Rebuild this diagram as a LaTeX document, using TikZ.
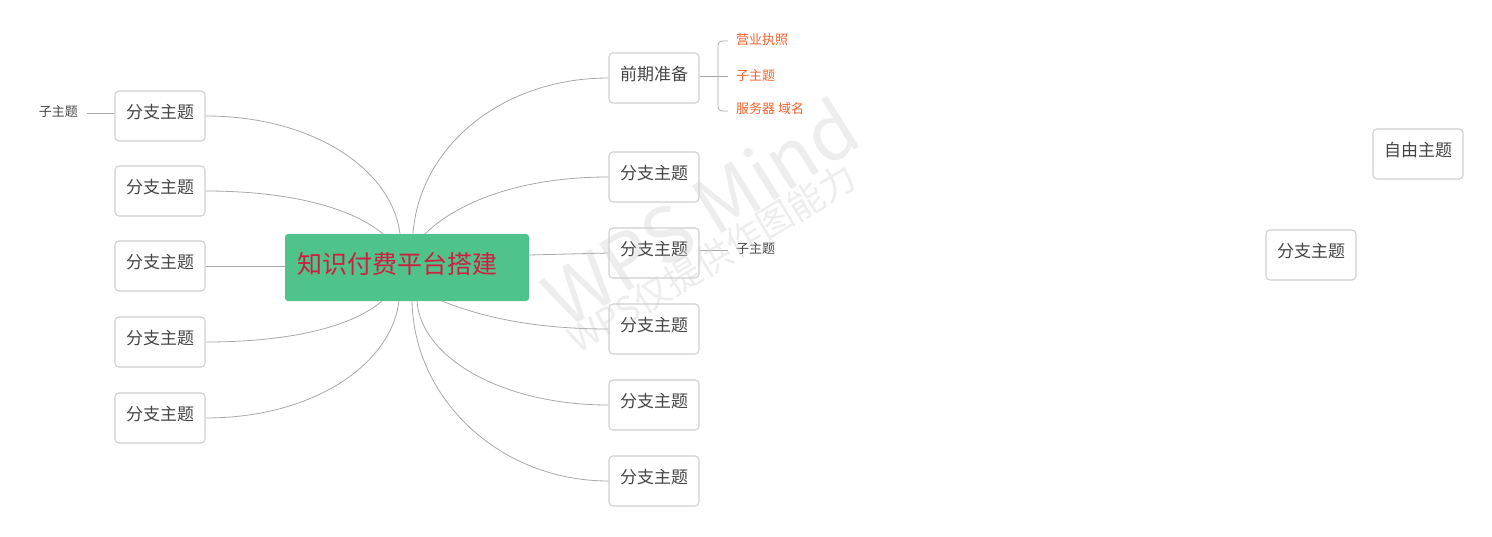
\documentclass[tikz,border=0pt]{standalone}
\usepackage{fontspec}
\newfontfamily\cjk{Noto Sans CJK SC}
\usetikzlibrary{calc}
\definecolor{rootgreen}{HTML}{50C38C}
\definecolor{rootred}{HTML}{CE1F40}
\definecolor{boxgray}{HTML}{CFCFCF}
\definecolor{txtgray}{HTML}{454545}
\definecolor{conngray}{HTML}{A8A8A8}
\definecolor{suborange}{HTML}{F2622D}
\definecolor{wmgray}{HTML}{D0D0D0}
\tikzset{
  branch/.style={draw=boxgray, line width=1.1pt, rounded corners=4pt, minimum width=90pt, minimum height=50pt,
    inner sep=0pt, text=txtgray, font=\cjk\fontsize{17}{20}\selectfont, text height=0.83em, text depth=0.26em},
  rootbox/.style={fill=rootgreen, rounded corners=3pt, minimum width=244pt, minimum height=67pt, inner sep=0pt},
  roottext/.style={inner sep=0pt, anchor=base west, text=rootred, font=\cjk\fontsize{25}{30}\selectfont},
  subtxt/.style={inner sep=0pt, text=txtgray, font=\cjk\fontsize{13}{15}\selectfont},
  suborg/.style={inner sep=0pt, text=suborange, font=\cjk\fontsize{13}{15}\selectfont, anchor=west},
  conn/.style={draw=conngray, line width=0.8pt},
  wm/.style={text=wmgray, text opacity=0.38, font=\cjk, inner sep=0pt}
}
\begin{document}
\begin{tikzpicture}[x=1pt,y=-1pt]
\useasboundingbox (0,0) rectangle (1492,536);

% root
\node[rootbox] (root) at (407,267.5) {};
\node[roottext] (roottxt) at (297,273.5) {知识付费平台搭建};

% left branches
\node[branch] (L1) at (160,116) {分支主题};
\node[branch] (L2) at (160,191) {分支主题};
\node[branch] (L3) at (160,266) {分支主题};
\node[branch] (L4) at (160,342) {分支主题};
\node[branch] (L5) at (160,418) {分支主题};

% right branches
\node[branch] (R1) at (654,78) {前期准备};
\node[branch] (R2) at (654,177) {分支主题};
\node[branch] (R3) at (654,253) {分支主题};
\node[branch] (R4) at (654,329) {分支主题};
\node[branch] (R5) at (654,405) {分支主题};
\node[branch] (R6) at (654,481) {分支主题};

% free topics
\node[branch] (F1) at (1418,154) {自由主题};
\node[branch] (F2) at (1311,255) {分支主题};

% sub topics
\node[suborg] (S1) at (736,40) {营业执照};
\node[suborg] (S2) at (736,76) {子主题};
\node[suborg] (S3) at (736,109) {服务器 域名};
\node[subtxt, anchor=east] (LS) at (78,112) {子主题};
\node[subtxt, anchor=west] (RS) at (736,249) {子主题};

% root anchor points
\coordinate (t1) at (383,234);
\coordinate (t2) at (400,234);
\coordinate (t3) at (413,234);
\coordinate (t4) at (425,234);
\coordinate (b1) at (382,301);
\coordinate (b2) at (399,301);
\coordinate (b3) at (412,301);
\coordinate (b4) at (417,301);
\coordinate (b5) at (442,301);
\coordinate (r3) at (529,255);

% connectors left
\draw[conn] (L1.east) .. controls +(107,0) and +(-8,-65) .. (t2);
\draw[conn] (L2.east) .. controls +(90,0) and +(-28,-24) .. (t1);
\draw[conn] (L3.east) -- (root.west |- L3.east);
\draw[conn] (L4.east) .. controls +(90,0) and +(-28,24) .. (b1);
\draw[conn] (L5.east) .. controls +(107,0) and +(-8,64) .. (b2);

% connectors right
\draw[conn] (R1.west) .. controls +(-108,0) and +(6,-86) .. (t3);
\draw[conn] (R2.west) .. controls +(-95,0) and +(28,-28) .. (t4);
\draw[conn] (r3) -- (R3.west);
\draw[conn] (R4.west) .. controls +(-85,0) and +(30,12) .. (b5);
\draw[conn] (R5.west) .. controls +(-106,0) and +(4,57) .. (b4);
\draw[conn] (R6.west) .. controls +(-108,0) and +(2,99) .. (b3);

% bracket of 前期准备
\coordinate (k1) at ($(S1.west)+(-8,1)$);
\coordinate (k3) at ($(S3.west)+(-8,2)$);
\coordinate (kx) at (718,76);
\draw[conn, rounded corners=4pt] (k1) -| (kx) |- (k3);
\draw[conn] (R1.east |- S2.west) -- ($(S2.west)+(-8,0)$);

% sub-topic lines
\draw[conn] ($(LS.east)+(9,1)$) -- (L1.west |- 0,113);
\draw[conn] (R3.east |- 0,250) -- ($(RS.west)+(-8,1)$);

% watermark
\node[wm, rotate=32, font=\cjk\fontsize{76}{84}\selectfont] (wm1) at (700,212) {WPS Mind};
\node[wm, rotate=31, font=\cjk\fontsize{36}{40}\selectfont] (wm2) at (712,258) {WPS仅提供作图能力};
\end{tikzpicture}
\end{document}
